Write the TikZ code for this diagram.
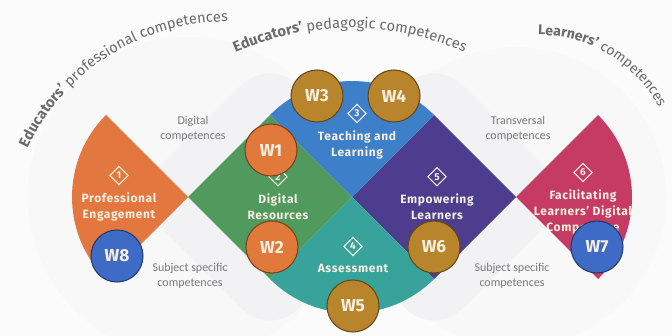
\documentclass[tikz,border=0pt]{standalone}
\usepackage{fontspec}
\setmainfont{Fira Sans}
\newfontfamily\notefont{Carlito}
\usetikzlibrary{positioning, shapes.geometric, decorations.text}

\definecolor{bgWhite}{HTML}{FBFBFB}
\definecolor{bgGrey}{HTML}{F2F2F4}
\definecolor{bgRing}{HTML}{F8F8F9}
\definecolor{arcGrey}{HTML}{6A6A6E}
\definecolor{noteGrey}{HTML}{7A7A7E}
\definecolor{peOrange}{HTML}{E2783F}
\definecolor{drGreen}{HTML}{4F9A5C}
\definecolor{tlBlue}{HTML}{3D7FC9}
\definecolor{asTeal}{HTML}{38A39B}
\definecolor{elPurple}{HTML}{4E3C8F}
\definecolor{flRed}{HTML}{C63B63}
\definecolor{wOrange}{HTML}{E0793A}
\definecolor{wGold}{HTML}{B8842C}
\definecolor{wBlue}{HTML}{3E6BC5}
\definecolor{wText}{HTML}{F7F0E2}

\newcommand\arcB{\fontsize{11}{11}\selectfont\bfseries\color{arcGrey}}
\newcommand\arcR{\fontsize{11}{11}\selectfont\mdseries\color{arcGrey}}
\newcommand\arcBs{\fontsize{10.5}{11}\selectfont\bfseries\color{arcGrey}}
\newcommand\arcRs{\fontsize{10.5}{11}\selectfont\mdseries\color{arcGrey}}

\begin{document}
\begin{tikzpicture}[x=0.75pt, y=0.75pt,
    areatext/.style={text=wText, font=\fontsize{9}{12}\selectfont\bfseries\addfontfeatures{LetterSpace=5}, align=center},
    num/.style={diamond, draw=wText, thick, text=wText, font=\fontsize{7.5}{7.5}\selectfont\bfseries, inner sep=0pt, minimum size=14pt},
    wsession/.style={circle, minimum size=39pt, inner sep=0pt, font=\fontsize{13}{13}\selectfont\bfseries, text=wText, draw=#1!55!black, fill=#1, line width=0.8pt},
    compnote/.style={text=noteGrey, font=\notefont\fontsize{9}{11}\selectfont, align=center},
]
    \useasboundingbox (0,0) rectangle (672,336);
    \fill[bgWhite] (0,0) rectangle (672,336);

    % Background
    \fill[bgRing] (188,139) circle (160);
    \fill[bgRing] (516,139) circle (150);
    \fill[bgGrey, rounded corners=30pt] (130,139) -- (270,279) -- (410,139) -- (270,-1) -- cycle;
    \fill[bgGrey, rounded corners=30pt] (294,139) -- (434,279) -- (574,139) -- (434,-1) -- cycle;

    % Curved titles
    \path[decorate, decoration={text along path, text align=left,
        text={|\arcB|Educators'|\arcR| professional competences}}]
        (226,95) ++(155:219) arc[start angle=155, end angle=70, radius=219];
    \path[decorate, decoration={text along path, text align=center,
        text={|\arcB|Educators'|\arcR| pedagogic competences}}]
        (350,30) ++(125:278) arc[start angle=125, end angle=55, radius=278];
    \path[decorate, decoration={text along path, text align=left,
        text={|\arcBs|Learners'|\arcRs| competences}}]
        (538,164) ++(90:137) arc[start angle=90, end angle=0, radius=137];

    % Areas
    \fill[peOrange] (188,139) -- ++(135:116) arc[start angle=135, end angle=225, radius=116] -- cycle;
    \fill[drGreen] (188,139) -- (270,221) -- (352,139) -- (270,57) -- cycle;
    \fill[elPurple] (352,139) -- (434,221) -- (516,139) -- (434,57) -- cycle;
    \fill[tlBlue] (352,139) -- ++(45:116) arc[start angle=45, end angle=135, radius=116] -- cycle;
    \fill[asTeal] (352,139) -- ++(225:116) arc[start angle=225, end angle=315, radius=116] -- cycle;
    \fill[flRed] (516,139) -- ++(-45:116) arc[start angle=-45, end angle=45, radius=116] -- cycle;

    % Area labels
    \node[areatext] (pe) at (119,129) {Professional\\Engagement};
    \node[num] (n1) [above=2pt of pe] {1};
    \node[areatext] (dr) at (278,129) {Digital\\Resources};
    \node[num] (n2) [above=2pt of dr] {2};
    \node[areatext] (tl) at (357,191) {Teaching and\\Learning};
    \node[num] (n3) [above=2pt of tl] {3};
    \node[areatext] (as) at (353,68) {Assessment};
    \node[num] (n4) [above=2pt of as] {4};
    \node[areatext] (el) at (437,129) {Empowering\\Learners};
    \node[num] (n5) [above=2pt of el] {5};
    \node[areatext] (fl) at (583,124) {Facilitating\\Learners' Digital\\Competence};
    \node[num] (n6) [above=2pt of fl] {6};

    % Competence notes
    \node[compnote] (dc) at (193,207) {Digital\\competences};
    \node[compnote] (ssl) at (190,60) {Subject specific\\competences};
    \node[compnote] (tc) at (518,207) {Transversal\\competences};
    \node[compnote] (ssr) at (512,60) {Subject specific\\competences};

    % Workshops
    \node[wsession=wOrange] (w1) at (271,186) {W1};
    \node[wsession=wOrange] (w2) at (272,89) {W2};
    \node[wsession=wGold] (w3) at (317,240) {W3};
    \node[wsession=wGold] (w4) at (394,240) {W4};
    \node[wsession=wGold] (w5) at (353,30) {W5};
    \node[wsession=wGold] (w6) at (434,89) {W6};
    \node[wsession=wBlue] (w7) at (597,89) {W7};
    \node[wsession=wBlue] (w8) at (117,80) {W8};
\end{tikzpicture}
\end{document}
